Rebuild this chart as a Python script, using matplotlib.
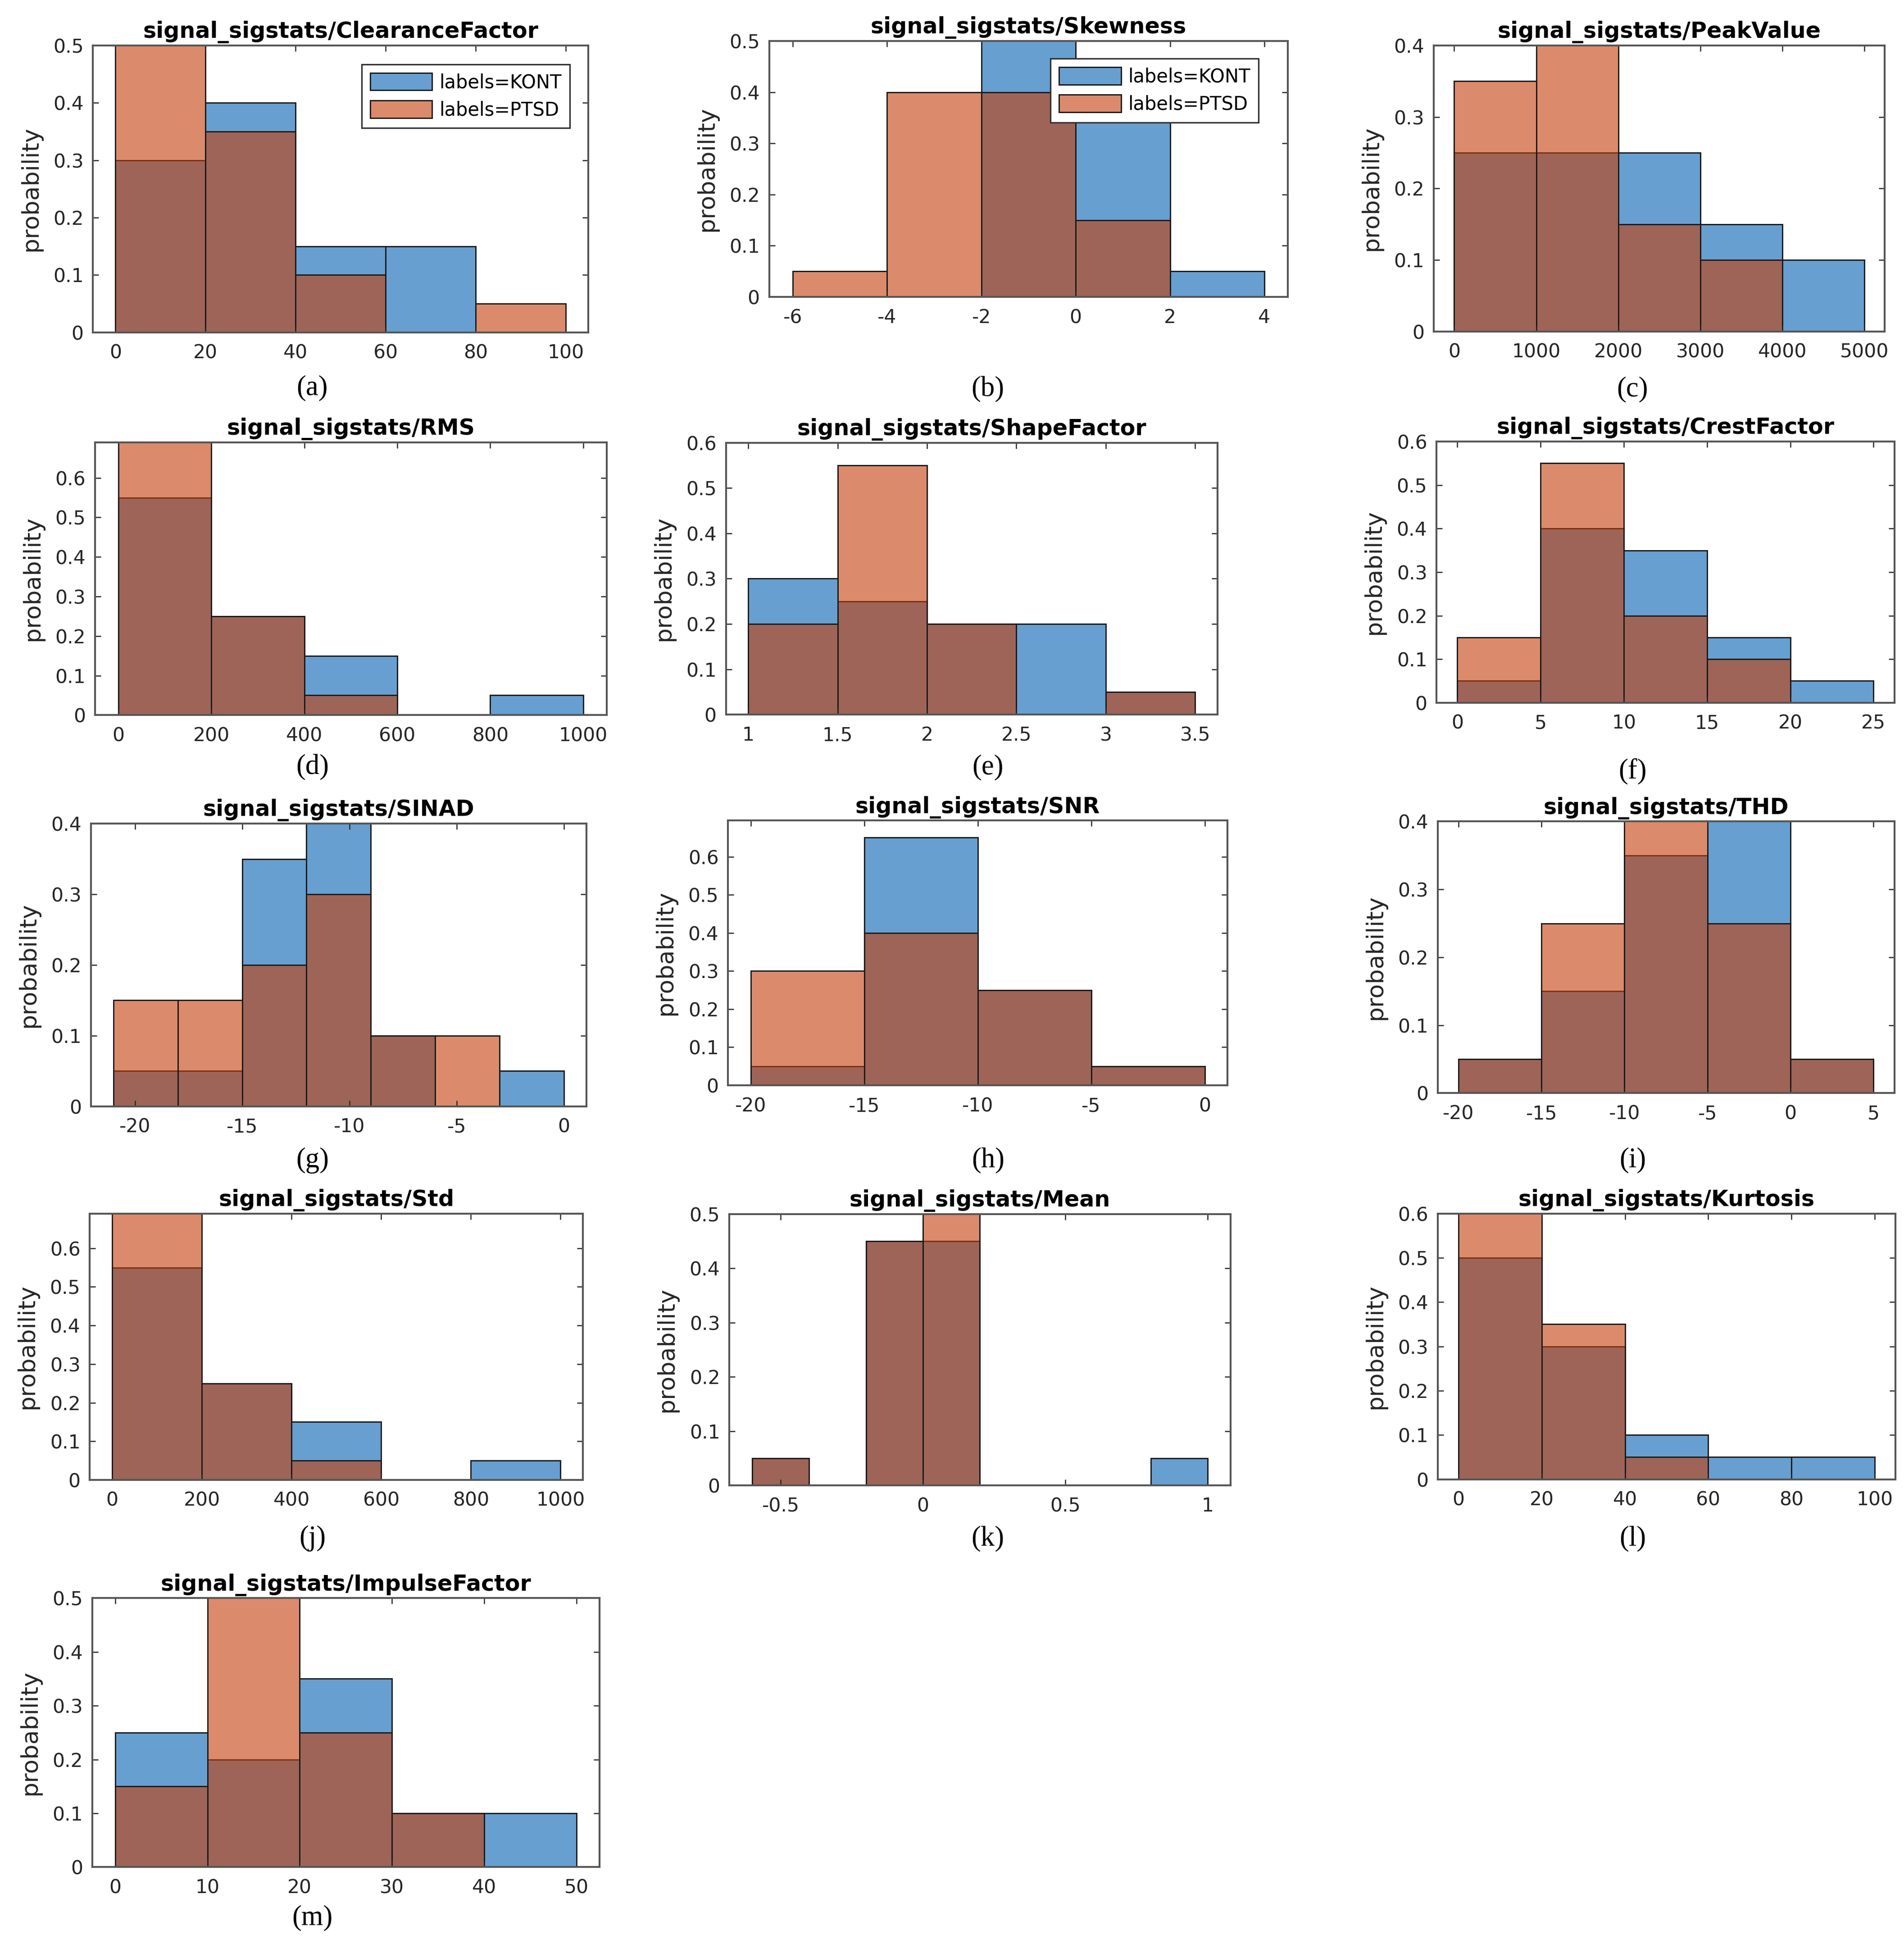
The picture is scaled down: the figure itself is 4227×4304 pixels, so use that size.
import numpy as np
import matplotlib
matplotlib.use("Agg")
import matplotlib.pyplot as plt

# ---------------- data ----------------
groups = ["labels=KONT", "labels=PTSD"]

clearance_edges = [0, 20, 40, 60, 80, 100]
clearance_kont = [0.30, 0.40, 0.15, 0.15, 0.00]
clearance_ptsd = [0.50, 0.35, 0.10, 0.00, 0.05]

skew_edges = [-6, -4, -2, 0, 2, 4]
skew_kont = [0.00, 0.00, 0.50, 0.45, 0.05]
skew_ptsd = [0.05, 0.40, 0.40, 0.15, 0.00]

peak_edges = [0, 1000, 2000, 3000, 4000, 5000]
peak_kont = [0.25, 0.25, 0.25, 0.15, 0.10]
peak_ptsd = [0.35, 0.40, 0.15, 0.10, 0.00]

rms_edges = [0, 200, 400, 600, 800, 1000]
rms_kont = [0.55, 0.25, 0.15, 0.00, 0.05]
rms_ptsd = [0.70, 0.25, 0.05, 0.00, 0.00]

shape_edges = [1.0, 1.5, 2.0, 2.5, 3.0, 3.5]
shape_kont = [0.30, 0.25, 0.20, 0.20, 0.05]
shape_ptsd = [0.20, 0.55, 0.20, 0.00, 0.05]

crest_edges = [0, 5, 10, 15, 20, 25]
crest_kont = [0.05, 0.40, 0.35, 0.15, 0.05]
crest_ptsd = [0.15, 0.55, 0.20, 0.10, 0.00]

sinad_edges = [-21, -18, -15, -12, -9, -6, -3, 0]
sinad_kont = [0.05, 0.05, 0.35, 0.40, 0.10, 0.00, 0.05]
sinad_ptsd = [0.15, 0.15, 0.20, 0.30, 0.10, 0.10, 0.00]

snr_edges = [-20, -15, -10, -5, 0]
snr_kont = [0.05, 0.65, 0.25, 0.05]
snr_ptsd = [0.30, 0.40, 0.25, 0.05]

thd_edges = [-20, -15, -10, -5, 0, 5]
thd_kont = [0.05, 0.15, 0.35, 0.40, 0.05]
thd_ptsd = [0.05, 0.25, 0.40, 0.25, 0.05]

std_edges = [0, 200, 400, 600, 800, 1000]
std_kont = [0.55, 0.25, 0.15, 0.00, 0.05]
std_ptsd = [0.70, 0.25, 0.05, 0.00, 0.00]

mean_edges = [-0.6, -0.4, -0.2, 0.0, 0.2, 0.4, 0.6, 0.8, 1.0]
mean_kont = [0.05, 0.00, 0.45, 0.45, 0.00, 0.00, 0.00, 0.05]
mean_ptsd = [0.05, 0.00, 0.45, 0.50, 0.00, 0.00, 0.00, 0.00]

kurt_edges = [0, 20, 40, 60, 80, 100]
kurt_kont = [0.50, 0.30, 0.10, 0.05, 0.05]
kurt_ptsd = [0.60, 0.35, 0.05, 0.00, 0.00]

impulse_edges = [0, 10, 20, 30, 40, 50]
impulse_kont = [0.25, 0.20, 0.35, 0.10, 0.10]
impulse_ptsd = [0.15, 0.50, 0.25, 0.10, 0.00]

titles = ["signal_sigstats/ClearanceFactor", "signal_sigstats/Skewness",
          "signal_sigstats/PeakValue", "signal_sigstats/RMS",
          "signal_sigstats/ShapeFactor", "signal_sigstats/CrestFactor",
          "signal_sigstats/SINAD", "signal_sigstats/SNR", "signal_sigstats/THD",
          "signal_sigstats/Std", "signal_sigstats/Mean", "signal_sigstats/Kurtosis",
          "signal_sigstats/ImpulseFactor"]
captions = ["(a)", "(b)", "(c)", "(d)", "(e)", "(f)", "(g)", "(h)", "(i)",
            "(j)", "(k)", "(l)", "(m)"]

xtick_labels = [
    ["0", "20", "40", "60", "80", "100"],
    ["-6", "-4", "-2", "0", "2", "4"],
    ["0", "1000", "2000", "3000", "4000", "5000"],
    ["0", "200", "400", "600", "800", "1000"],
    ["1", "1.5", "2", "2.5", "3", "3.5"],
    ["0", "5", "10", "15", "20", "25"],
    ["-20", "-15", "-10", "-5", "0"],
    ["-20", "-15", "-10", "-5", "0"],
    ["-20", "-15", "-10", "-5", "0", "5"],
    ["0", "200", "400", "600", "800", "1000"],
    ["-0.5", "0", "0.5", "1"],
    ["0", "20", "40", "60", "80", "100"],
    ["0", "10", "20", "30", "40", "50"],
]
y_top = [0.5, 0.5, 0.4, 0.69, 0.6, 0.6, 0.4, 0.695, 0.4, 0.69, 0.5, 0.6, 0.5]
ytick_labels = [
    ["0", "0.1", "0.2", "0.3", "0.4", "0.5"],
    ["0", "0.1", "0.2", "0.3", "0.4", "0.5"],
    ["0", "0.1", "0.2", "0.3", "0.4"],
    ["0", "0.1", "0.2", "0.3", "0.4", "0.5", "0.6"],
    ["0", "0.1", "0.2", "0.3", "0.4", "0.5", "0.6"],
    ["0", "0.1", "0.2", "0.3", "0.4", "0.5", "0.6"],
    ["0", "0.1", "0.2", "0.3", "0.4"],
    ["0", "0.1", "0.2", "0.3", "0.4", "0.5", "0.6"],
    ["0", "0.1", "0.2", "0.3", "0.4"],
    ["0", "0.1", "0.2", "0.3", "0.4", "0.5", "0.6"],
    ["0", "0.1", "0.2", "0.3", "0.4", "0.5"],
    ["0", "0.1", "0.2", "0.3", "0.4", "0.5", "0.6"],
    ["0", "0.1", "0.2", "0.3", "0.4", "0.5"],
]

edges_all = [clearance_edges, skew_edges, peak_edges, rms_edges, shape_edges,
             crest_edges, sinad_edges, snr_edges, thd_edges, std_edges,
             mean_edges, kurt_edges, impulse_edges]
kont_all = [clearance_kont, skew_kont, peak_kont, rms_kont, shape_kont,
            crest_kont, sinad_kont, snr_kont, thd_kont, std_kont,
            mean_kont, kurt_kont, impulse_kont]
ptsd_all = [clearance_ptsd, skew_ptsd, peak_ptsd, rms_ptsd, shape_ptsd,
            crest_ptsd, sinad_ptsd, snr_ptsd, thd_ptsd, std_ptsd,
            mean_ptsd, kurt_ptsd, impulse_ptsd]
with_legend = [True, True] + [False] * 11

# ---------------- layout (reference pixel frame 1536 x 1564) ----------------
W, H = 1536.0, 1564.0
boxes = [  # left, right, top, bottom
    (75.0, 474.6, 36.7, 268.0),
    (620.5, 1039.0, 33.1, 239.5),
    (1156.6, 1520.5, 36.7, 267.3),
    (76.7, 489.3, 356.7, 576.8),
    (585.6, 982.2, 357.1, 576.4),
    (1158.9, 1528.2, 356.1, 566.8),
    (73.4, 473.0, 664.3, 892.3),
    (587.3, 990.2, 661.8, 875.4),
    (1159.8, 1528.2, 662.6, 881.7),
    (72.4, 470.3, 978.8, 1193.7),
    (588.4, 992.6, 979.2, 1198.2),
    (1159.8, 1529.2, 978.8, 1193.2),
    (74.4, 483.6, 1289.0, 1506.0),
]
cap_pos = [(252, 313), (797, 314), (1317, 314),
           (252, 619), (797, 619), (1317, 622),
           (252, 936), (797, 936), (1317, 936),
           (252, 1241), (797, 1241), (1317, 1241),
           (252, 1547)]
legend_anchor = [(0.5425, 0.934), (0.5426, 0.931)]

KONT_COLOR = (2 / 255, 95 / 255, 178 / 255, 0.6)
PTSD_COLOR = (195 / 255, 62 / 255, 8 / 255, 0.6)
EDGE = "#1a1a1a"
AXC = "#262626"

plt.rcParams["font.family"] = ["DejaVu Sans"]

fig = plt.figure(figsize=(4227 / 300, 4304 / 300), dpi=300)
fig.patch.set_facecolor("white")

for i in range(13):
    l, r, t, b = boxes[i]
    ax = fig.add_axes([l / W, 1 - b / H, (r - l) / W, (b - t) / H])
    edges = np.array(edges_all[i], dtype=float)
    lefts = edges[:-1]
    widths = np.diff(edges)
    span = edges[-1] - edges[0]
    for vals, col, lab in ((kont_all[i], KONT_COLOR, groups[0]),
                           (ptsd_all[i], PTSD_COLOR, groups[1])):
        v = np.array(vals, dtype=float)
        m = v > 0
        ax.bar(lefts[m], v[m], width=widths[m], align="edge", color=col,
               edgecolor=EDGE, linewidth=0.7, label=lab)
    ax.set_xlim(edges[0] - 0.05 * span, edges[-1] + 0.05 * span)
    ax.set_ylim(0, y_top[i])
    xt = [float(s) for s in xtick_labels[i]]
    ax.set_xticks(xt)
    ax.set_xticklabels(xtick_labels[i])
    yt = [float(s) for s in ytick_labels[i]]
    ax.set_yticks(yt)
    ax.set_yticklabels(ytick_labels[i])
    ax.tick_params(direction="in", length=3.2, width=0.6, colors=AXC,
                   labelsize=10.2, top=True, right=True)
    ax.tick_params(axis="x", pad=6)
    ax.tick_params(axis="y", pad=5)
    for sp in ax.spines.values():
        sp.set_color("#555555")
        sp.set_linewidth(1.0)
    ax.set_title(titles[i], fontsize=11.8, fontweight="bold", pad=4)
    ax.set_ylabel("probability", fontsize=12.5, color=AXC, labelpad=6)
    if with_legend[i]:
        leg = ax.legend(loc="upper left", bbox_to_anchor=legend_anchor[i],
                        borderaxespad=0, fontsize=10, handlelength=3.3,
                        handleheight=1.05, handletextpad=0.37, borderpad=0.45,
                        labelspacing=0.45, fancybox=False, framealpha=1)
        leg.get_frame().set_edgecolor("#333333")
        leg.get_frame().set_linewidth(0.8)
    cx, cy = cap_pos[i]
    fig.text(cx / W, 1 - cy / H, captions[i], ha="center", va="center",
             fontsize=15, family=["Liberation Serif", "DejaVu Serif"])

fig.savefig("out.png", dpi=300, facecolor="white")
